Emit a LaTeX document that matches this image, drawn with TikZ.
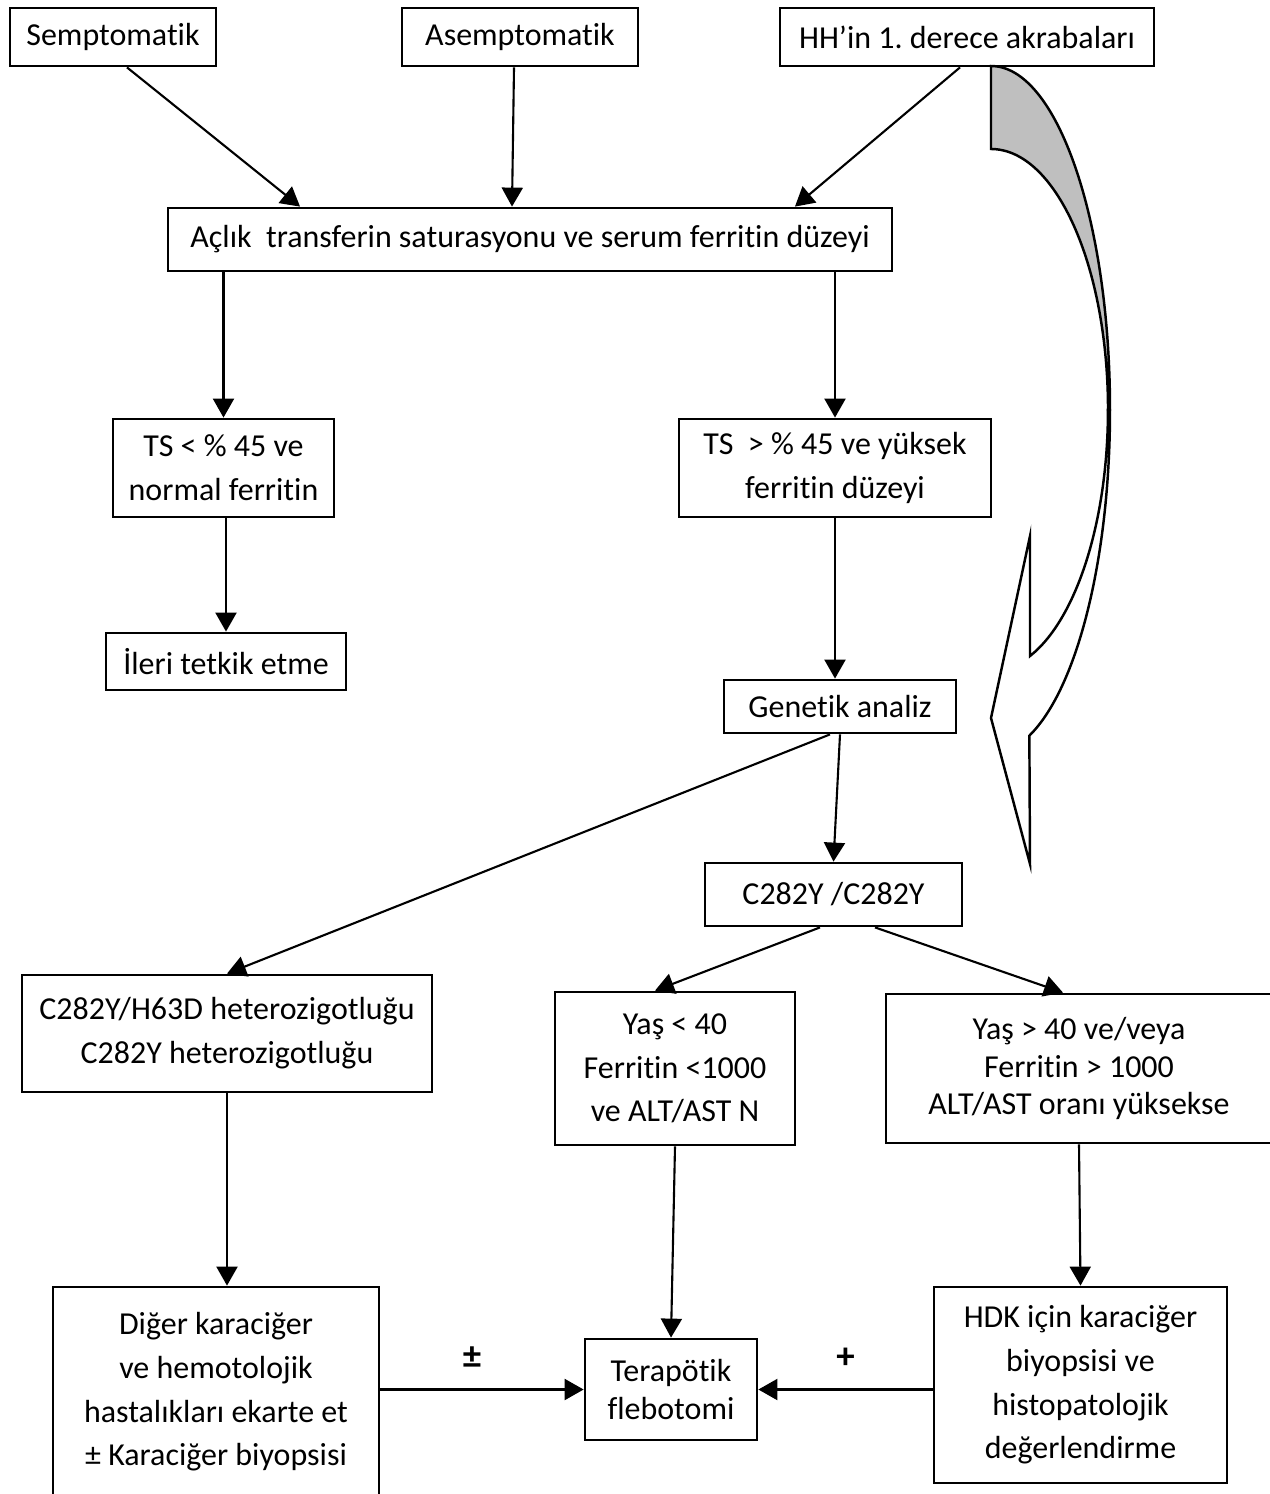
\documentclass[tikz,border=0pt]{standalone}
\usepackage{fontspec}
\setmainfont{Carlito}[Ligatures=NoCommon]
\usetikzlibrary{arrows.meta}
\frenchspacing

\tikzstyle{box} = [draw, line width=1.6pt, align=center, inner sep=0pt,
    font=\fontsize{18.2}{24.9}\selectfont]
\tikzstyle{tight} = [font=\fontsize{18.2}{21.3}\selectfont]
\tikzstyle{arr} = [-{Triangle[length=0.38cm,width=0.42cm]}, line width=1.2pt]
\tikzstyle{sign} = [inner sep=0pt, font=\fontsize{21}{22}\selectfont\bfseries]

\begin{document}
\begin{tikzpicture}[x=0.02cm, y=-0.02cm]
\useasboundingbox (0,0) rectangle (1269,1494);

\node[box, minimum width=4.12cm, minimum height=1.16cm] (semp) at (113,37) {Semptomatik};
\node[box, minimum width=4.72cm, minimum height=1.16cm] (asemp) at (520,37) {Asemptomatik};
\node[box, minimum width=7.48cm, minimum height=1.16cm] (hh) at (967,37) {HH’in 1. derece akrabaları};

\node[box, minimum width=14.48cm, minimum height=1.26cm] (aclik) at (530,239.5)
    {Açlık\ \ transferin saturasyonu ve serum ferritin düzeyi};

\node[box, minimum width=4.42cm, minimum height=1.96cm] (tsdusuk) at (223.5,468)
    {TS < \% 45 ve\\normal ferritin};
\node[box, minimum width=6.24cm, minimum height=1.96cm] (tsyuksek) at (835,468)
    {TS\ \ > \% 45 ve yüksek\\ferritin düzeyi};

\node[box, minimum width=4.8cm, minimum height=1.14cm] (ileri) at (226,661.5) {İleri tetkik etme};
\node[box, minimum width=4.64cm, minimum height=1.06cm] (genetik) at (840,706.5) {Genetik analiz};
\node[box, minimum width=5.14cm, minimum height=1.26cm] (homo) at (833.5,894.5) {C282Y /C282Y};

\node[box, minimum width=8.2cm, minimum height=2.34cm] (hetero) at (227,1033.5)
    {C282Y/H63D heterozigotluğu\\C282Y heterozigotluğu};
\node[box, minimum width=4.8cm, minimum height=3.06cm] (genc) at (675,1068.5)
    {Yaş < 40\\Ferritin <1000\\ve ALT/AST N};
\node[box, tight, minimum width=7.72cm, minimum height=2.98cm] (yasli) at (1079,1068.5)
    {Yaş > 40 ve/veya\\Ferritin > 1000\\ALT/AST oranı yüksekse};

\node[box, minimum width=6.52cm, minimum height=4.2cm] (diger) at (216,1392)
    {Diğer karaciğer\\ve hemotolojik\\hastalıkları ekarte et\\± Karaciğer biyopsisi};
\node[box, tight, minimum width=3.44cm, minimum height=2.02cm] (flebo) at (671,1389.5)
    {Terapötik\\flebotomi};
\node[box, minimum width=5.86cm, minimum height=3.92cm] (hdk) at (1080.5,1385)
    {HDK için karaciğer\\biyopsisi ve\\histopatolojik\\değerlendirme};

\draw[arr] ([xshift=0.28cm]semp.south) -- ([xshift=-4.6cm]aclik.north);
\draw[arr] ([xshift=-0.12cm]asemp.south) -- ([xshift=-0.36cm]aclik.north);
\draw[arr] ([xshift=-0.14cm]hh.south) -- ([xshift=5.3cm]aclik.north);
\draw[arr] (tsdusuk.north |- aclik.south) -- (tsdusuk.north);
\draw[arr] (tsyuksek.north |- aclik.south) -- (tsyuksek.north);
\draw[arr] (ileri.north |- tsdusuk.south) -- (ileri.north);
\draw[arr] (tsyuksek.south) -- (tsyuksek.south |- genetik.north);
\draw[arr] (genetik.south) -- (homo.north);
\draw[arr] ([xshift=-0.2cm]genetik.south) -- (hetero.north);
\draw[arr] ([xshift=-0.27cm]homo.south) -- ([xshift=-0.4cm]genc.north);
\draw[arr] ([xshift=0.83cm]homo.south) -- ([xshift=-0.32cm]yasli.north);
\draw[arr] (hetero.south) -- (hetero.south |- diger.north);
\draw[arr] (genc.south) -- (flebo.north);
\draw[arr] (yasli.south) -- (hdk.north);
\draw[arr] (diger.east |- flebo.west) -- node[sign, above=0.4cm, xshift=-0.2cm] {±} (flebo.west);
\draw[arr] (hdk.west |- flebo.east) -- node[sign, above=0.4cm] {+} (flebo.east);

% curved arrow from HH'in 1. derece akrabalari
\draw[line width=1.4pt, fill=black!25] (991,66) -- (991,149)
    arc[start angle=-90, end angle=0, x radius=117, y radius=261]
    -- (1110,410) arc[start angle=0, end angle=-90, x radius=119, y radius=344] -- cycle;
\draw[line width=1.4pt, fill=white] (1110,410)
    arc[start angle=0, end angle=71.2, x radius=119, y radius=344]
    -- (1030,864) -- (991,718) -- (1030,536) -- (1030,656)
    arc[start angle=70.5, end angle=0, x radius=117, y radius=261] -- cycle;
\end{tikzpicture}
\end{document}
